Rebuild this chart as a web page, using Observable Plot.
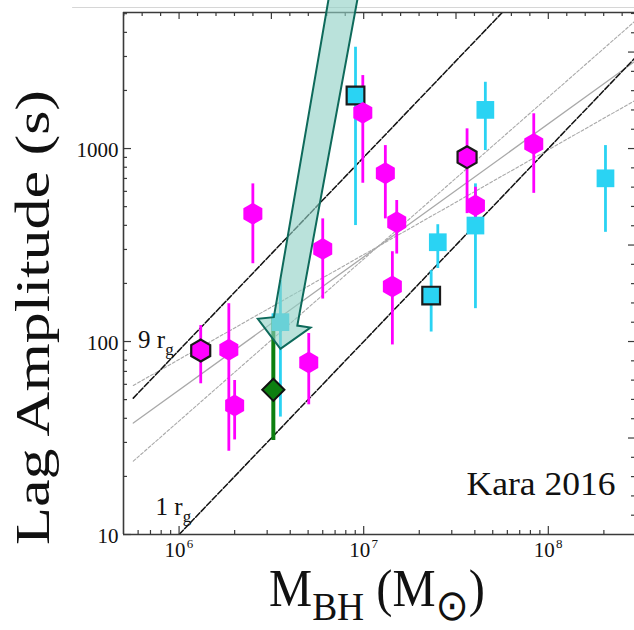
<!DOCTYPE html>
<html>
<head>
<meta charset="utf-8">
<script src="https://cdn.jsdelivr.net/npm/d3@7"></script>
<script src="https://cdn.jsdelivr.net/npm/@observablehq/plot@0.6"></script>
<style>
  body { margin: 0; background: #fff; }
  svg { display: block; }
</style>
</head>
<body>
<div id="chart"></div>
<script>
// Black hole mass (solar masses) and reverberation lag amplitude (s)
// Magenta hexagons
const hexMass = [1.31e6, 1.86e6, 2.0e6, 2.51e6, 5.04e6, 6.0e6, 9.89e6, 1.31e7, 1.43e7, 1.51e7, 3.63e7, 4.03e7, 8.34e7];
const hexLag  = [89.8, 90.6, 46.6, 459, 77.8, 302, 1531, 745, 193, 415, 902, 507, 1057];
const hexLo   = [60.4, 27.0, 30.9, 253, 47.0, 166, 661, 432, 96, 284, 460, 384, 586];
const hexHi   = [121, 157, 62.8, 656, 110, 432, 2389, 1036, 292, 538, 1265, 630, 1514];
const hexOutlined = [true, false, false, false, false, false, false, false, false, false, true, false, false];

// Cyan squares
const sqMass = [9.03e6, 4.56e7, 2.04e8, 2.52e7, 2.32e7, 4.03e7, 3.54e6];
const sqLag  = [1882, 1586, 701, 327, 173, 399, 126];
const sqLo   = [399, 977, 368, 239, 112, 148, 40.6];
const sqHi   = [3350, 2205, 1036, 403, 233, 656, 207];
const sqOutlined = [true, false, false, false, true, false, false];

// Green diamond
const dmMass = [3.24e6];
const dmLag  = [56.2];
const dmLo   = [30.7];
const dmHi   = [133];

// Reference lines [mass, lag] endpoints
const rg1Line = [[1.0e6, 10], [2.93e8, 2930]];
const rg9Line = [[5.65e5, 50.9], [3.0e8, 27000]];
const fitMid  = [[5.65e5, 37.8], [2.93e8, 2820]];
const fitFlat = [[5.65e5, 59.2], [2.93e8, 1767]];
const fitSteep = [[5.65e5, 24.0], [2.93e8, 4550]];

// Annotation arrow outline [mass, lag]
const arrowPts = [[6.86e6, 8360], [3.26e6, 133.7], [2.67e6, 131.1], [3.54e6, 91.6], [5.15e6, 118.2], [4.37e6, 121], [9.88e6, 8360]];

// Axes
const xDomain = [5.0e5, 2.93e8];
const yDomain = [10, 5070];
const xMajor = [1e6, 1e7, 1e8];
const xMajorExp = ["6", "7", "8"];
const xMinor = [6e5, 7e5, 8e5, 9e5, 2e6, 3e6, 4e6, 5e6, 6e6, 7e6, 8e6, 9e6, 2e7, 3e7, 4e7, 5e7, 6e7, 7e7, 8e7, 9e7, 2e8];
const yMajor = [10, 100, 1000];
const yMajorLabels = ["10", "100", "1000"];
const yMinor = [20, 30, 40, 50, 60, 70, 80, 90, 200, 300, 400, 500, 600, 700, 800, 900, 2000, 3000, 4000, 5000];
// Mirror axes: tenth-of-decade ticks, longer every half decade
const topTicks = d3.range(57, 85).map(e => 10 ** (e / 10));
const rightTicks = d3.range(11, 38).map(e => 10 ** (e / 10));
const isHalfDecade = v => Math.abs(Math.log10(v) * 2 - Math.round(Math.log10(v) * 2)) < 1e-6;
const pageEdge = {lag: 5380, mass: [2.65e5, 2.93e8]};

const rows = (m, l, lo, hi, o) => m.map((d, i) => ({m: d, l: l[i], lo: lo[i], hi: hi[i], o: o ? o[i] : false}));
const hex = rows(hexMass, hexLag, hexLo, hexHi, hexOutlined);
const sq = rows(sqMass, sqLag, sqLo, sqHi, sqOutlined);
const dm = rows(dmMass, dmLag, dmLo, dmHi);

const magenta = "#ff00ff";
const cyan = "#2ad3f3";
const green = "#0d7f10";
const frameColor = "#3a3a3a";
const serif = "Liberation Serif";
const H = 630 - 12 - 96;
const W = 634 - 123;

const P = d => d[0], Q = d => d[1];

const plot = Plot.plot({
  width: 634,
  height: 630,
  marginLeft: 123,
  marginRight: 0,
  marginTop: 12,
  marginBottom: 96,
  x: {type: "log", domain: xDomain, axis: null},
  y: {type: "log", domain: yDomain, axis: null},
  style: {fontFamily: serif, background: "#fff", color: "#111"},
  marks: [
    Plot.ruleY([pageEdge.lag], {x1: pageEdge.mass[0], x2: pageEdge.mass[1], stroke: "#d6d6d6", strokeWidth: 1}),

    // fits
    Plot.line(fitMid, {x: P, y: Q, stroke: "#a9a9a9", strokeWidth: 1.3, clip: true}),
    Plot.line(fitFlat, {x: P, y: Q, stroke: "#a9a9a9", strokeWidth: 1.1, strokeDasharray: "3,2", clip: true}),
    Plot.line(fitSteep, {x: P, y: Q, stroke: "#a9a9a9", strokeWidth: 1.1, strokeDasharray: "3,2", clip: true}),
    // gravitational radius light-travel lines
    Plot.line(rg9Line, {x: P, y: Q, stroke: "#111", strokeWidth: 1.5, strokeDasharray: "6,2", clip: true}),
    Plot.line(rg1Line, {x: P, y: Q, stroke: "#111", strokeWidth: 1.5, strokeDasharray: "6,2", clip: true}),

    // error bars
    Plot.ruleX(sq, {x: "m", y1: "lo", y2: "hi", stroke: cyan, strokeWidth: 2.8}),
    Plot.ruleX(hex, {x: "m", y1: "lo", y2: "hi", stroke: magenta, strokeWidth: 2.8}),
    Plot.ruleX(dm, {x: "m", y1: "lo", y2: "hi", stroke: green, strokeWidth: 4}),

    // markers
    Plot.dot(sq, {x: "m", y: "l", symbol: "square", r: 10, fill: cyan,
      stroke: d => d.o ? "#1a1a1a" : "none", strokeWidth: 2.2}),
    Plot.dot(hex, {x: "m", y: "l", symbol: "hexagon", r: 9.5, fill: magenta,
      stroke: d => d.o ? "#1a1a1a" : "none", strokeWidth: 2.2}),
    Plot.dot(dm, {x: "m", y: "l", symbol: "diamond2", r: 10, fill: green, stroke: "#111", strokeWidth: 2}),

    // frame
    Plot.ruleX([xDomain[0]], {stroke: frameColor, strokeWidth: 1.6}),
    Plot.ruleY([yDomain[0]], {stroke: frameColor, strokeWidth: 1.6}),
    Plot.ruleY([yDomain[1]], {stroke: frameColor, strokeWidth: 1.6}),

    // bottom ticks (inward)
    Plot.ruleX(xMajor, {x: d => d, insetTop: H - 8, stroke: frameColor, strokeWidth: 1.2}),
    Plot.ruleX(xMinor, {x: d => d, insetTop: H - 4, stroke: frameColor, strokeWidth: 1.2}),
    // left ticks
    Plot.ruleY(yMajor, {y: d => d, insetRight: W - 8, stroke: frameColor, strokeWidth: 1.2}),
    Plot.ruleY(yMinor, {y: d => d, insetRight: W - 4, stroke: frameColor, strokeWidth: 1.2}),
    // top ticks
    Plot.ruleX(topTicks.filter(isHalfDecade), {x: d => d, insetBottom: H - 7, stroke: frameColor, strokeWidth: 1.2}),
    Plot.ruleX(topTicks.filter(v => !isHalfDecade(v)), {x: d => d, insetBottom: H - 4, stroke: frameColor, strokeWidth: 1.2}),
    // right ticks
    Plot.ruleY(rightTicks.filter(isHalfDecade), {y: d => d, insetLeft: W - 6, stroke: frameColor, strokeWidth: 1.2}),
    Plot.ruleY(rightTicks.filter(v => !isHalfDecade(v)), {y: d => d, insetLeft: W - 3, stroke: frameColor, strokeWidth: 1.2}),

    // tick labels
    Plot.text(xMajor, {x: d => d, frameAnchor: "bottom", text: () => "10", dx: -4, dy: 22, fontSize: 21, fill: "#111"}),
    Plot.text(xMajor, {x: d => d, frameAnchor: "bottom", text: (d, i) => xMajorExp[i], dx: 11, dy: 13, fontSize: 13, fill: "#111"}),
    Plot.text(yMajor, {y: d => d, frameAnchor: "left", text: (d, i) => yMajorLabels[i], textAnchor: "end", dx: -5, dy: 2, fontSize: 21, fill: "#111"}),

    // line labels
    Plot.text([[6.0e5, 100]], {x: P, y: Q, text: () => "9 r", textAnchor: "start", fontSize: 25, fill: "#111", dy: -2}),
    Plot.text([[7.46e5, 13.7]], {x: P, y: Q, text: () => "1 r", textAnchor: "start", fontSize: 25, fill: "#111", dy: -1}),

    Plot.text(["Kara 2016"], {frameAnchor: "bottom-right", lineAnchor: "bottom", dx: -19, dy: -40, fontSize: 33, fill: "#111"}),

    // axis titles
    Plot.text(["Lag Amplitude (s)"], {frameAnchor: "left", lineAnchor: "bottom", textAnchor: "middle", rotate: -90, dx: -75, dy: 44, fontSize: 48, fill: "#111"}),
    Plot.text(["M"], {frameAnchor: "bottom", lineAnchor: "bottom", textAnchor: "middle", dx: -2, dy: 71, fontSize: 44, fill: "#111"}),

    // annotation arrow
    Plot.line(arrowPts, {x: P, y: Q, fill: "#8fd0c5", fillOpacity: 0.62, stroke: "#0e6a5b", strokeWidth: 2,
      strokeLinejoin: "miter", strokeMiterlimit: 10, curve: "linear"})
  ]
});

document.getElementById("chart").appendChild(plot);

const svg = d3.select(plot);
const textsWith = s => svg.selectAll("text").filter(function () { return this.textContent === s; });

// subscripts on the r_g labels
textsWith("9 r").append("tspan").attr("font-size", 17).attr("dy", 7).text("g");
textsWith("1 r").append("tspan").attr("font-size", 17).attr("dy", 7).text("g");

textsWith("Kara 2016").attr("textLength", 149).attr("lengthAdjust", "spacingAndGlyphs");
textsWith("Lag Amplitude (s)").attr("textLength", 455).attr("lengthAdjust", "spacingAndGlyphs");

// M_BH (M_sun)
const xt = textsWith("M");
if (!xt.empty()) {
  xt.text(null);
  xt.append("tspan").text("M");
  xt.append("tspan").attr("font-size", 34).attr("dy", 12).text("BH");
  xt.append("tspan").attr("dy", -12).text(" (M");
  xt.append("tspan").attr("font-size", 36).attr("font-family", "DejaVu Sans").attr("dy", 12).text("\u2299");
  xt.append("tspan").attr("dy", -12).text(")");
  xt.attr("textLength", 216).attr("lengthAdjust", "spacingAndGlyphs");
  const t = xt.attr("transform") || "";
  xt.attr("transform", t + " scale(1,1.2)");
}
</script>
</body>
</html>
